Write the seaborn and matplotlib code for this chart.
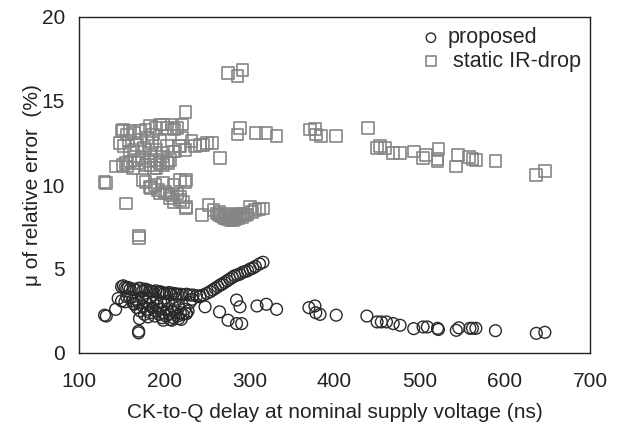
import numpy as np
import pandas as pd
import matplotlib
matplotlib.use("Agg")
import matplotlib.pyplot as plt
import seaborn as sns

# ---- data ----
sq_x = [130, 132, 143, 155, 170, 170,
        150, 152, 156, 160, 165, 172, 178, 183, 187, 190, 195, 199, 203, 209, 212, 215, 221, 225,
        148, 153, 158, 160, 164, 168, 172, 176, 180, 183, 186, 191, 195, 199, 203, 207, 210, 213,
        217, 219, 221, 225, 232, 236, 242, 246, 250, 256, 266,
        152, 155, 157, 160, 163, 166, 170, 174, 178, 182, 184, 188, 191, 195, 199, 203, 205, 185, 190,
        175, 178, 183, 185, 189, 193, 195, 199, 201, 203, 207, 209, 211, 211, 215, 219, 219, 219,
        222, 225, 226, 226, 226,
        275, 286, 292, 286, 289, 308, 320, 332, 371, 377, 378, 384, 402, 439, 450, 453, 459, 469,
        477, 493, 504, 507, 521, 521, 522, 543, 545, 558, 562, 566, 589, 637, 647,
        244, 252, 258, 262, 264, 266, 268, 270, 271, 273, 275, 277, 278, 280, 281, 283, 285, 287,
        289, 291, 293, 295, 297, 301, 303, 307, 311, 316, 265, 272, 279, 286]
sq_y = [10.2, 10.1, 11.1, 8.9, 7.0, 6.85,
        13.2, 13.3, 13.0, 13.2, 13.1, 13.2, 13.3, 13.5, 13.0, 13.4, 13.6, 13.6, 13.4, 13.6, 13.3, 13.4, 13.6, 14.35,
        12.5, 12.3, 12.6, 12.0, 12.1, 12.4, 12.7, 12.2, 12.8, 11.9, 12.5, 12.1, 12.6, 11.7, 12.3, 11.5, 12.0, 12.0,
        12.3, 12.3, 12.8, 12.1, 12.6, 12.3, 12.4, 12.4, 12.5, 12.5, 11.6,
        11.2, 11.3, 11.1, 11.4, 11.0, 11.5, 11.3, 11.6, 11.2, 11.4, 11.2, 11.0, 11.0, 11.3, 11.2, 11.4, 11.3, 11.7, 11.5,
        10.3, 10.2, 9.9, 9.8, 10.0, 9.7, 9.5, 10.1, 9.6, 9.5, 9.2, 9.4, 9.0, 10.0, 9.5, 9.3, 9.1, 10.3,
        9.0, 10.2, 10.3, 8.7, 8.6,
        16.65, 16.5, 16.85, 13.0, 13.4, 13.1, 13.1, 12.9, 13.3, 13.35, 13.0, 12.9, 12.9, 13.4, 12.2, 12.3, 12.2, 11.9,
        11.9, 12.0, 11.6, 11.8, 11.4, 11.55, 12.15, 11.1, 11.8, 11.65, 11.55, 11.5, 11.45, 10.6, 10.85,
        8.2, 8.8, 8.5, 8.3, 8.25, 8.2, 8.15, 8.1, 8.0, 8.05, 7.95, 8.0, 7.9, 8.05, 7.9, 7.95, 8.1, 8.0,
        8.2, 8.1, 8.3, 8.2, 8.25, 8.7, 8.4, 8.5, 8.55, 8.6, 8.4, 8.3, 8.25, 8.3]

ci_x = [130, 132, 143, 146, 150, 154, 156, 164, 170, 170, 171, 181,
        150, 152, 154, 156, 158, 160, 164, 167, 170, 172, 175, 178, 180, 183, 185, 187, 190, 193,
        195, 198, 200, 203, 206, 208, 211, 214, 216, 219, 222, 226, 230, 234, 238, 242,
        160, 163, 165, 167, 168, 170, 172, 174, 175, 177, 178, 180, 181, 183, 184, 186, 187, 189,
        190, 191, 192, 194, 195, 196, 198, 199, 200, 202, 203, 205, 206, 207, 209, 210, 211, 213,
        214, 216, 217, 219, 220, 222, 224, 226, 228, 230, 233,
        199, 209, 217, 226,
        242, 246, 248, 250, 254, 257, 260, 263, 266, 268, 271, 274, 277, 280, 283, 286, 289, 292,
        295, 298, 301, 304, 307, 312, 316,
        265, 275, 285, 291, 285, 289, 309, 320, 332, 370, 377, 378, 383, 402, 438, 450, 455, 461,
        469, 477, 493, 504, 509, 521, 522, 543, 546, 559, 562, 566, 589, 637, 647]
ci_y = [2.25, 2.2, 2.6, 3.25, 3.1, 3.05, 3.35, 2.95, 1.3, 1.2, 2.05, 2.15,
        3.95, 4.0, 3.9, 3.85, 3.9, 3.8, 3.8, 3.75, 3.85, 3.85, 3.7, 3.8, 3.75, 3.7, 3.65, 3.65, 3.7, 3.6,
        3.65, 3.6, 3.55, 3.55, 3.6, 3.5, 3.55, 3.5, 3.5, 3.5, 3.45, 3.5, 3.45, 3.45, 3.4, 3.4,
        3.3, 3.1, 2.9, 3.2, 2.7, 3.0, 2.5, 3.3, 2.8, 2.3, 3.1, 2.6, 2.9, 3.3, 2.4, 2.7, 3.0, 2.2,
        2.5, 3.2, 2.8, 2.3, 2.6, 3.0, 2.1, 2.4, 2.9, 2.2, 2.6, 3.1, 2.3, 2.0, 2.5, 2.8, 2.1, 2.4,
        3.2, 2.2, 2.7, 2.4, 2.0, 2.3, 2.6, 2.35, 2.5, 3.0, 3.2,
        1.95, 1.95, 2.05, 2.35,
        3.35, 3.45, 2.75, 3.55, 3.65, 3.75, 3.85, 3.95, 4.05, 4.1, 4.2, 4.3, 4.4, 4.5, 4.6, 4.65, 4.7, 4.8,
        4.85, 4.9, 5.0, 5.05, 5.15, 5.3, 5.4,
        2.45, 1.95, 1.75, 1.75, 3.15, 2.75, 2.8, 2.9, 2.6, 2.7, 2.8, 2.4, 2.3, 2.25, 2.2, 1.85, 1.85, 1.85,
        1.75, 1.65, 1.45, 1.55, 1.55, 1.47, 1.4, 1.35, 1.5, 1.47, 1.47, 1.47, 1.33, 1.17, 1.23]

labels = ["proposed", " static IR-drop"]
x_ticks = [100, 200, 300, 400, 500, 600, 700]
y_ticks = [0, 5, 10, 15, 20]

sns.set_style("white")
plt.rcParams["font.family"] = ["Liberation Sans", "DejaVu Sans"]

fig = plt.figure(figsize=(6.18, 4.33), dpi=100)
ax = fig.add_axes([79 / 618, 1 - 353 / 433, (590 - 79) / 618, (353 - 17) / 433])

sns.scatterplot(x=ci_x, y=ci_y, ax=ax, marker="o", s=72, color="#2a2a2a",
                facecolor="none", edgecolor="#2a2a2a", linewidth=1.0, label=labels[0])
sns.scatterplot(x=sq_x, y=sq_y, ax=ax, marker="s", s=72, color="#858585",
                facecolor="none", edgecolor="#858585", linewidth=1.2, label=labels[1])

ax.set_xlim(100, 700)
ax.set_ylim(0, 20)
ax.set_xticks(x_ticks)
ax.set_yticks(y_ticks)
ax.tick_params(direction="in", length=4, width=0.8, labelsize=15, colors="#222222")
ax.tick_params(axis="x", pad=14)
ax.tick_params(axis="y", pad=10)
for sp in ax.spines.values():
    sp.set_visible(True)
    sp.set_color("#222222")
    sp.set_linewidth(1.0)

ax.set_xlabel("CK-to-Q delay at nominal supply voltage (ns)", fontsize=15, color="#222222")
ax.set_ylabel("μ of relative error  (%)", fontsize=15, color="#222222")
ax.xaxis.set_label_coords(0.5, -0.148)
ax.yaxis.set_label_coords(-0.072, 0.5)

leg = ax.legend(loc="upper right", bbox_to_anchor=(1.012, 1.014), frameon=False, fontsize=15.5,
                handletextpad=0.15, labelspacing=0.1, borderaxespad=0.3, handlelength=1.2,
                markerscale=0.8)

fig.savefig("out.png", dpi=100)
